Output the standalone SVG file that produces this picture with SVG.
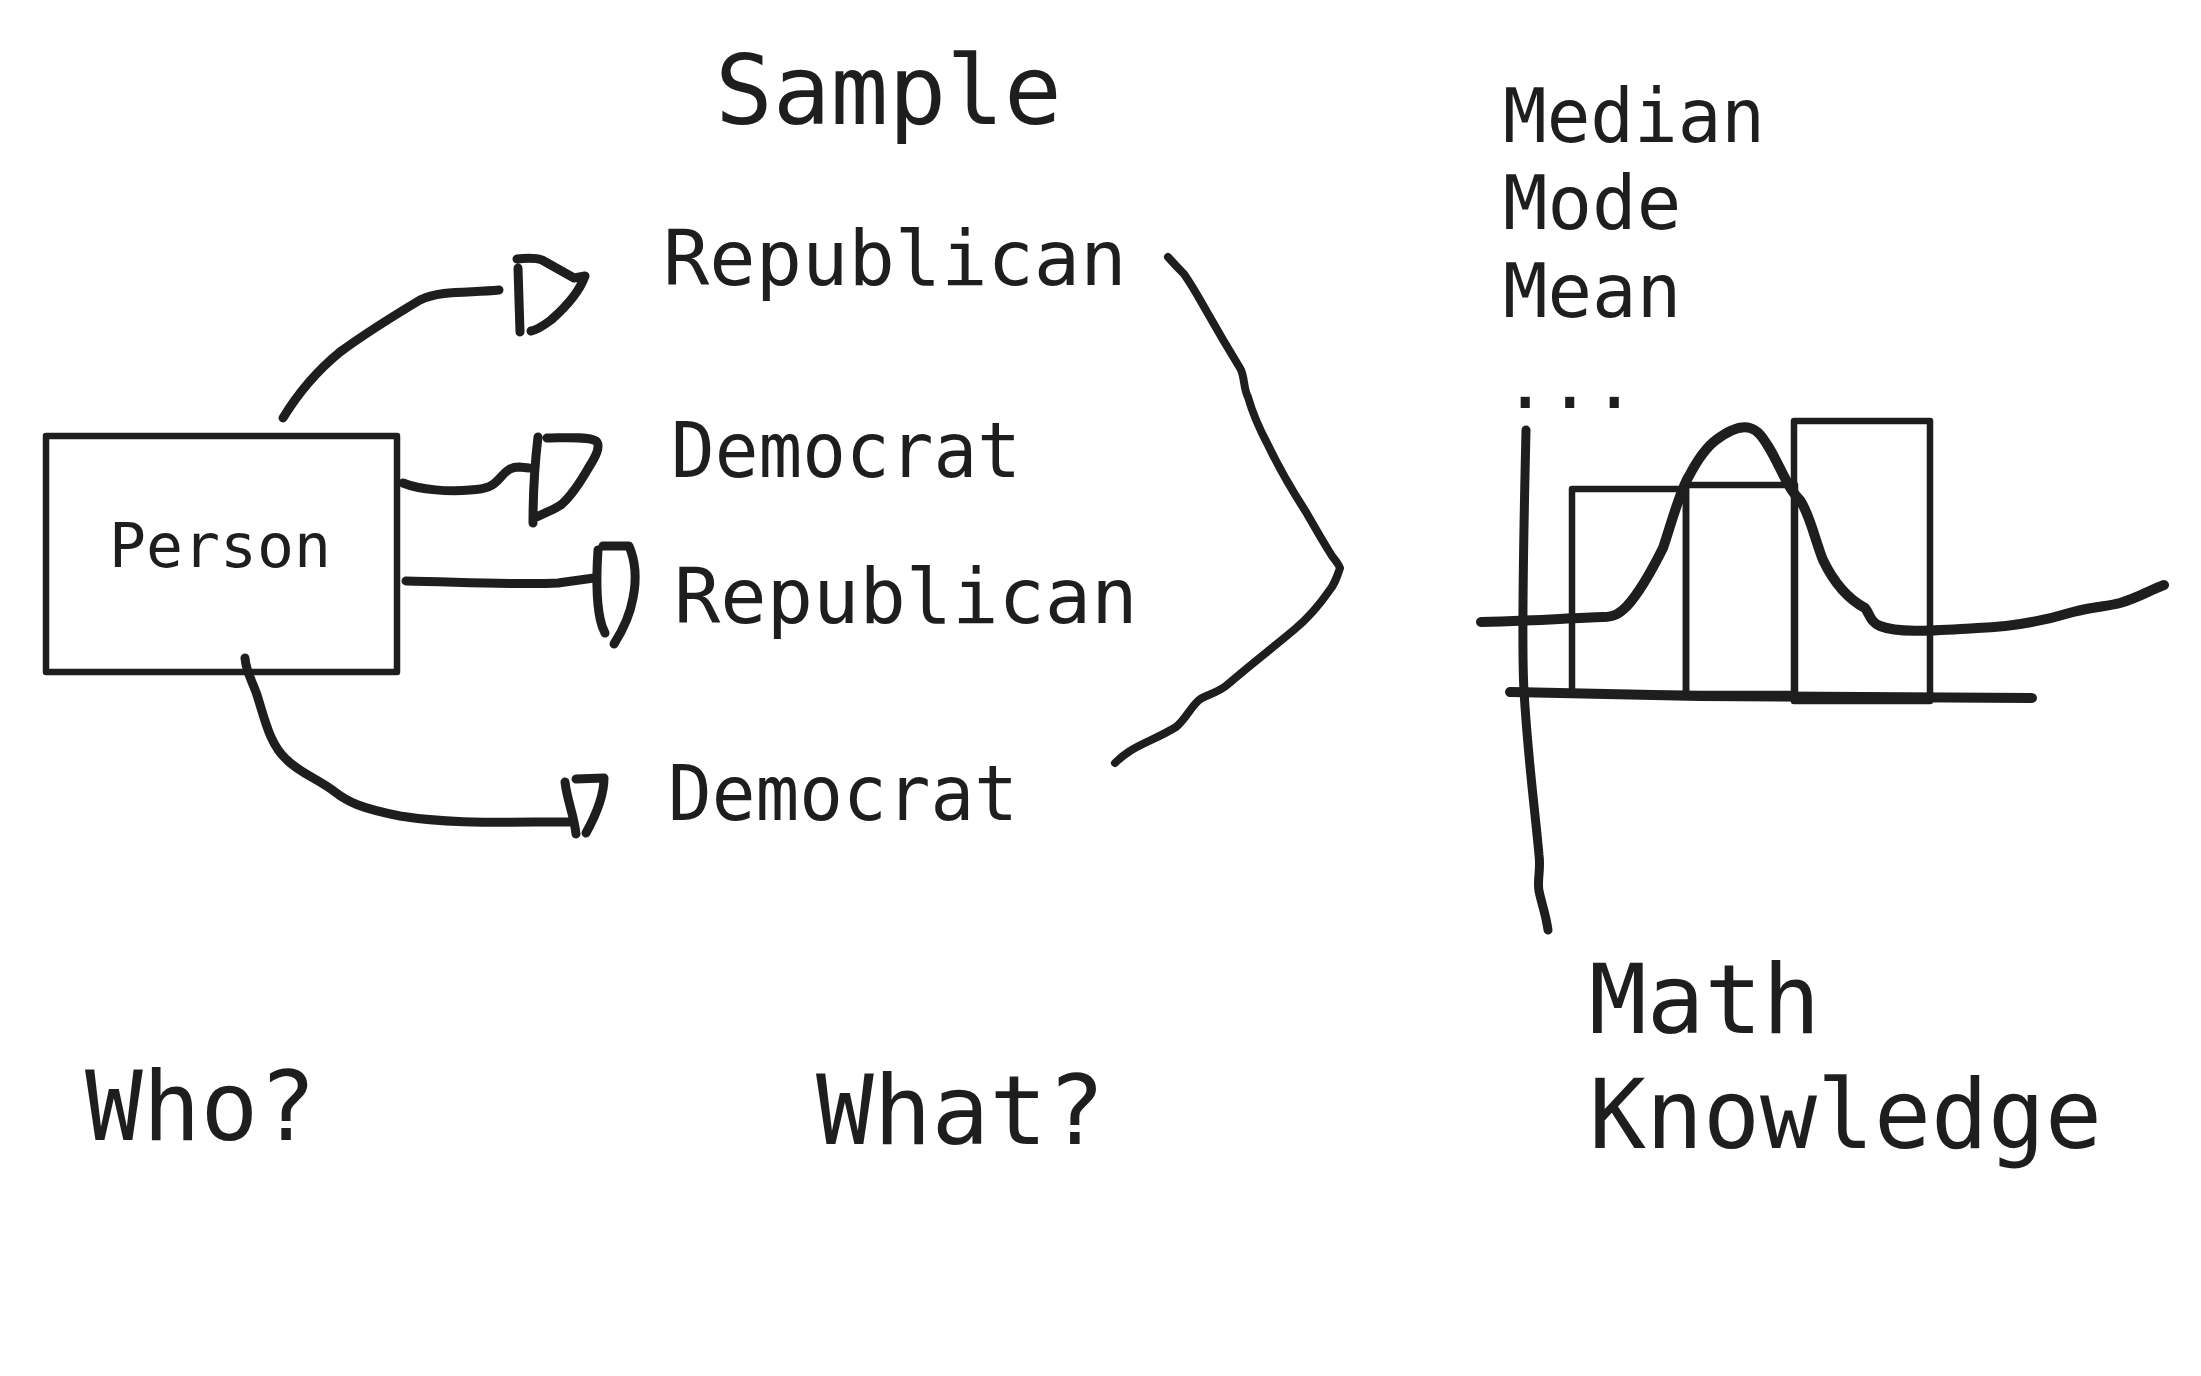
<svg xmlns="http://www.w3.org/2000/svg" width="2201" height="1376" viewBox="0 0 2201 1376">
<style>
.t{font-family:"DejaVu Sans Mono","Liberation Mono",monospace;fill:#1e1e1e}
.s{fill:none;stroke:#1e1e1e;stroke-linecap:round;stroke-linejoin:round}
.c{stroke-width:9}
.b{stroke-width:6.5}
</style>
<rect width="2201" height="1376" fill="#ffffff"/>
<g id="title-sample"><text class="t" x="715" y="124" font-size="96">Sample</text></g>
<g id="person"><rect class="s b" x="46" y="436" width="351" height="236"/><text class="t" x="109" y="567" font-size="60" textLength="222" lengthAdjust="spacingAndGlyphs">Person</text></g>
<g id="rep1"><text class="t" x="663" y="285" font-size="77">Republican</text></g>
<g id="dem1"><text class="t" x="671" y="477" font-size="77" textLength="350" lengthAdjust="spacingAndGlyphs">Democrat</text></g>
<g id="rep2"><text class="t" x="674" y="623" font-size="77">Republican</text></g>
<g id="dem2"><text class="t" x="668" y="820" font-size="77" textLength="350" lengthAdjust="spacingAndGlyphs">Democrat</text></g>
<g id="stats"><text class="t" x="1503" y="142" font-size="74" textLength="262" lengthAdjust="spacingAndGlyphs">Median</text><text class="t" x="1503" y="229" font-size="74">Mode</text><text class="t" x="1503" y="317" font-size="74">Mean</text><text class="t" x="1503" y="408" font-size="74">...</text></g>
<g id="who"><text class="t" x="85" y="1140" font-size="96">Who?</text></g>
<g id="what"><text class="t" x="816" y="1144" font-size="96">What?</text></g>
<g id="math"><text class="t" x="1589" y="1033" font-size="96">Math</text><text class="t" x="1589" y="1148" font-size="96" textLength="513" lengthAdjust="spacingAndGlyphs">Knowledge</text></g>
<g id="chart">
<path class="s c" d="M1526 430 C1524 520 1521 640 1524 691 C1528 760 1535 810 1539 855 C1541 870 1537 880 1539 891 C1542 905 1546 915 1548 930"/>
<path class="s" stroke-width="10" d="M1510 692 L1700 696 L2032 698"/>
<rect class="s" stroke-width="6.5" x="1572" y="489" width="114" height="205"/>
<rect class="s" stroke-width="6.5" x="1686" y="485" width="109" height="209"/>
<rect class="s" stroke-width="6.5" x="1794" y="421" width="136" height="280"/>
<path class="s" stroke-width="10" d="M1481 622 C1530 621 1570 618 1603 617 C1615 617 1620 613 1627 606 C1640 592 1652 570 1663 548 C1670 528 1680 490 1689 476 C1700 455 1708 446 1716 440 C1728 431 1740 425 1750 428 C1758 430 1763 438 1768 446 C1780 465 1788 490 1800 500 C1810 515 1815 540 1823 560 C1835 585 1850 600 1865 608 C1870 614 1870 622 1880 626 C1900 634 1940 630 1977 628 C2010 627 2040 622 2073 612 C2095 606 2105 607 2120 603 C2140 597 2150 590 2164 585"/>
</g>
<g id="connectors">
<path class="s c" d="M283 418 C300 390 318 370 340 352 C370 330 400 312 420 300 C440 290 470 293 499 290"/>
<path class="s c" d="M518 268 L520 332 M517 259 C527 258 536 258 542 260 L574 278 L585 276 C580 290 567 306 551 320 C543 326 537 330 531 331"/>
<path class="s c" d="M403 483 C420 490 450 492 470 490 C488 489 493 486 500 478 C507 470 511 467 519 467 L529 468"/>
<path class="s c" d="M538 437 C534 470 533 500 533 523 M547 438 C562 438 588 436 596 441 C601 446 596 456 589 467 C581 481 572 495 562 504 C555 510 545 512 533 519"/>
<path class="s c" d="M406 581 C460 582 520 585 558 583 L594 578"/>
<path class="s c" d="M598 550 C596 580 597 610 602 626 L605 633 M603 546 L629 546 C635 560 637 578 633 598 C630 615 623 630 614 644"/>
<path class="s c" d="M245 658 C246 672 252 680 257 695 C265 720 270 745 287 760 C300 773 320 780 335 792 C348 802 360 808 400 816 C450 824 500 822 569 822"/>
<path class="s c" d="M565 782 C567 800 574 815 576 834 M576 779 L604 778 C604 795 596 815 586 833"/>
<path class="s" stroke-width="8" d="M1168 257 C1176 266 1182 272 1184 274 C1195 290 1200 300 1207 312 C1220 335 1232 355 1240 368 C1245 376 1243 388 1248 397 C1253 415 1260 430 1268 445 C1280 470 1295 495 1306 512 C1318 533 1327 548 1332 556 C1336 561 1339 565 1340 568 C1336 580 1334 585 1329 591 C1318 607 1308 618 1295 629 C1270 650 1250 665 1227 685 C1218 693 1205 695 1199 700 C1190 708 1185 720 1176 727 C1160 737 1140 744 1130 751 C1122 756 1118 760 1115 763"/>
</g>
</svg>
